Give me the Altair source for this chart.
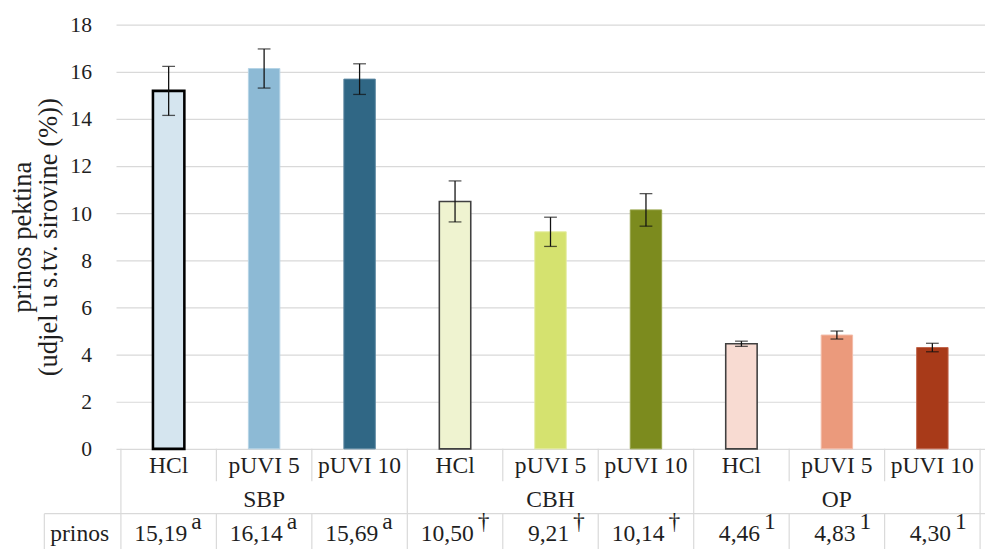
import altair as alt
import pandas as pd

# ---- data ----
groups = ["SBP", "CBH", "OP"]
treatments = ["HCl", "pUVI 5", "pUVI 10"]
yields = [15.19, 16.14, 15.69, 10.50, 9.21, 10.14, 4.46, 4.83, 4.30]
errors = [1.04, 0.83, 0.65, 0.87, 0.62, 0.69, 0.11, 0.17, 0.18]
value_labels = ["15,19", "16,14", "15,69", "10,50", "9,21", "10,14", "4,46", "4,83", "4,30"]
sup_labels = ["a", "a", "a", "\u2020", "\u2020", "\u2020", "1", "1", "1"]
y_ticks = [0, 2, 4, 6, 8, 10, 12, 14, 16, 18]
row_header = ["prinos"]
y_title = ["prinos pektina", "(udjel u s.tv. sirovine (%))"]

# ---- styles ----
fill_colors = ["#D5E5EF", "#8DBAD5", "#306785",
               "#EFF3D0", "#D5E26F", "#7C8B1E",
               "#F8DBD2", "#EB9A7C", "#A83A19"]
stroke_colors = ["#000000", "#b5d3e6", "#5b87a0",
                 "#404040", "#e3ec9e", "#97a44a",
                 "#404040", "#f3bca8", "#c0644a"]
FONT = "Liberation Serif"
TXT = "#1f1f1f"
LINE = "#d9d9d9"

rows = []
i = 0
for g in groups:
    for t in treatments:
        rows.append({"key": f"{g} {t}", "group": g, "treat": t, "xc": i + 0.5,
                     "v": yields[i], "err": errors[i],
                     "lo": yields[i] - errors[i], "hi": yields[i] + errors[i],
                     "lab": value_labels[i], "sup": sup_labels[i]})
        i += 1
df = pd.DataFrame(rows)
keys = list(df["key"])

gdf = pd.DataFrame({"group": groups, "gx": [k * 3 + 1.5 for k in range(len(groups))]})
n = len(keys)
full_b = pd.DataFrame({"b": [b for b in range(n + 1) if b % 3 == 0]})
short_b = pd.DataFrame({"b": [b for b in range(n + 1) if b % 3 != 0]})
one = pd.DataFrame({"name": row_header})

xs = alt.Scale(domain=[0, n])
ys = alt.Scale(domain=[0, 18])
yaxis = alt.Axis(
    values=y_ticks, grid=True, gridColor=LINE, gridWidth=1.2, domain=False, ticks=False,
    labelFont=FONT, labelFontSize=22, labelColor=TXT, labelPadding=25,
    titleFont=FONT, titleFontSize=27, titleFontWeight="normal", titleColor=TXT,
    titlePadding=8, titleLineHeight=26)


def X(f):
    return alt.X(f, scale=xs, axis=None)


def Y(f):
    return alt.Y(f, scale=ys, axis=yaxis, title=y_title)


base = alt.Chart(df)

sw = (alt.when("datum.key == 'SBP HCl'").then(alt.value(2.6))
      .when("datum.treat == 'HCl'").then(alt.value(1.6))
      .otherwise(alt.value(1.0)))

bars = base.mark_bar(size=32, orient="vertical").encode(
    x=X("xc:Q"),
    y=Y("v:Q"),
    fill=alt.Fill("key:N", scale=alt.Scale(domain=keys, range=fill_colors), legend=None),
    stroke=alt.Stroke("key:N", scale=alt.Scale(domain=keys, range=stroke_colors), legend=None),
    strokeWidth=sw,
)

err_rule = base.mark_rule(color="#111", strokeWidth=1.3).encode(
    x=X("xc:Q"), y=Y("lo:Q"), y2="hi:Q")
cap_lo = base.mark_tick(orient="horizontal", size=13, thickness=1.3, color="#111").encode(
    x=X("xc:Q"), y=Y("lo:Q"))
cap_hi = base.mark_tick(orient="horizontal", size=13, thickness=1.3, color="#111").encode(
    x=X("xc:Q"), y=Y("hi:Q"))

# ---- table below the plot ----
tk = dict(font=FONT, fontSize=24, color=TXT, baseline="alphabetic")
treat_txt = base.mark_text(align="center", **tk).encode(
    x=X("xc:Q"), y=alt.value(457), text="treat:N")
group_txt = alt.Chart(gdf).mark_text(align="center", **tk).encode(
    x=X("gx:Q"), y=alt.value(491), text="group:N")
val_txt = base.mark_text(align="right", dx=19, **tk).encode(
    x=X("xc:Q"), y=alt.value(526), text="lab:N")
sup_txt = base.mark_text(align="left", dx=23, **tk).encode(
    x=X("xc:Q"), y=alt.value(514), text="sup:N")
row_head = alt.Chart(one).mark_text(align="center", **tk).encode(
    x=alt.value(-37), y=alt.value(526), text="name:N")

full_lines = alt.Chart(full_b).mark_rule(color=LINE, strokeWidth=1.2).encode(
    x=X("b:Q"), y=alt.value(432), y2=alt.value(545))
short_top = alt.Chart(short_b).mark_rule(color=LINE, strokeWidth=1.2).encode(
    x=X("b:Q"), y=alt.value(432), y2=alt.value(465))
short_bot = alt.Chart(short_b).mark_rule(color=LINE, strokeWidth=1.2).encode(
    x=X("b:Q"), y=alt.value(498), y2=alt.value(545))
h_line = alt.Chart(one).mark_rule(color=LINE, strokeWidth=1.2).encode(
    x=alt.value(-73), x2=alt.value(900), y=alt.value(498))
left_line = alt.Chart(one).mark_rule(color=LINE, strokeWidth=1.2).encode(
    x=alt.value(-73), y=alt.value(498), y2=alt.value(545))

chart = alt.layer(
    bars, err_rule, cap_lo, cap_hi,
    full_lines, short_top, short_bot, h_line, left_line,
    treat_txt, group_txt, val_txt, sup_txt, row_head,
).properties(
    width=885, height=432,
    autosize=alt.AutoSizeParams(type="none"),
    padding={"left": 110, "top": 12, "right": 0, "bottom": 97},
    background="white",
).configure_view(stroke=None)

chart.save("out.html", embed_options={"renderer": "svg", "actions": False})
